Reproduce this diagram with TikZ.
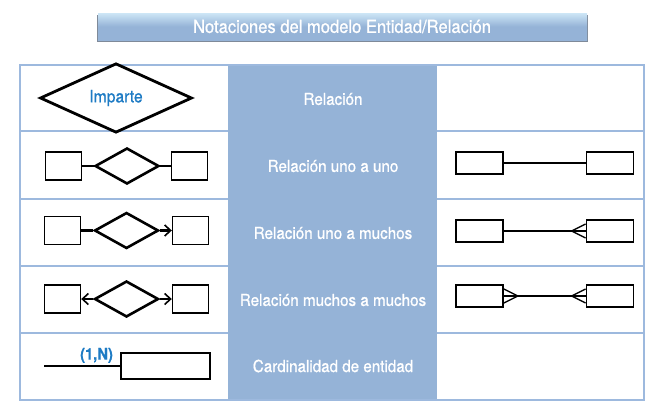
\documentclass[tikz,border=0pt]{standalone}
\usepackage{fontspec}
\setmainfont{TeX Gyre Heros}
\newfontfamily\cond[FakeStretch=0.92,FakeBold=0.9]{TeX Gyre Heros}
\usetikzlibrary{shapes.geometric,positioning,calc,arrows.meta}

\definecolor{tabline}{HTML}{9DB9DE}
\definecolor{colfill}{HTML}{95B3D7}
\definecolor{labblue}{HTML}{1E7BC4}
\definecolor{bannertop}{HTML}{CDE6F6}
\definecolor{bannershade}{HTML}{7F8A99}

\tikzset{
  ent/.style={rectangle,draw,line width=1.1pt,minimum width=36pt,
    minimum height=28pt,inner sep=0pt},
  rel/.style={diamond,draw,line width=2.6pt,minimum width=64pt,
    minimum height=36pt,inner sep=0pt},
  ent3/.style={rectangle,draw,line width=1.8pt,minimum width=47pt,
    minimum height=22pt,inner sep=0pt},
  desc/.style={text=white,font=\cond\fontsize{16.5}{19}\selectfont},
  link/.style={line width=2.4pt},
  link3/.style={line width=1.4pt},
  barb/.style={-{Straight Barb[length=6pt,width=11pt,line width=1.6pt]}},
}

\begin{document}
\begin{tikzpicture}[x=1pt,y=-1pt]
  \useasboundingbox (0,0) rectangle (660,418);

  % banner
  \fill[bannershade] (97,15) rectangle (588,42);
  \shade[top color=bannertop,bottom color=colfill,middle color=colfill]
    (98,13) rectangle (587,40);
  \node[text=white,font=\cond\fontsize{18}{21}\selectfont] (title) at (342,26.5)
    {Notaciones del modelo Entidad/Relación};

  % table
  \fill[colfill] (228,65) rectangle (437,400);
  \foreach \y in {131,199,266,333} {
    \draw[tabline,line width=1.3pt] (20,\y) -- (228,\y);
    \draw[tabline,line width=1.3pt] (437,\y) -- (644,\y);
  }
  \draw[tabline,line width=1.5pt] (20,65) rectangle (644,400);

  \node[desc] (t1) at (333,99) {Relación};
  \node[desc] (t2) at (333,166) {Relación uno a uno};
  \node[desc] (t3) at (333,233) {Relación uno a muchos};
  \node[desc] (t4) at (333,300) {Relación muchos a muchos};
  \node[desc] (t5) at (333,366) {Cardinalidad de entidad};

  % row 1
  \node[diamond,draw,line width=2.8pt,minimum width=152pt,minimum height=51pt,
    inner sep=0pt,text=labblue,font=\cond\fontsize{17}{20}\selectfont] (imp)
    at (116,98) {Imparte};

  % row 2: uno a uno
  \node[rel] (r2) at (127,166) {};
  \node[ent,left=12pt of r2] (e2l) {};
  \node[ent,right=11pt of r2] (e2r) {};
  \draw[link] (e2l) -- (r2);
  \draw[link] (r2) -- (e2r);

  % row 3: uno a muchos
  \node[rel] (r3) at (126.5,230.5) {};
  \node[ent,left=12pt of r3] (e3l) {};
  \node[ent,right=12pt of r3] (e3r) {};
  \draw[link] (e3l) -- (r3);
  \draw[link,barb] (r3) -- (e3r);

  % row 4: muchos a muchos
  \node[rel] (r4) at (126.5,299) {};
  \node[ent,left=12pt of r4] (e4l) {};
  \node[ent,right=12pt of r4] (e4r) {};
  \draw[link,barb] (r4) -- (e4l);
  \draw[link,barb] (r4) -- (e4r);

  % row 5: cardinalidad
  \node[rectangle,draw,line width=1.8pt,minimum width=89pt,minimum height=26pt,
    inner sep=0pt] (card) at (165.5,366) {};
  \coordinate (cstart) at (44,366);
  \draw[link3] (cstart) -- (card.west);
  \node[text=labblue,font=\cond\bfseries\fontsize{16}{19}\selectfont,
    above left=3pt and 7pt of card.west,inner sep=0pt] (cn) {(1,N)};

  % column 3
  \node[ent3] (o2l) at (479.5,163) {};
  \node[ent3] (o2r) at (610,163) {};
  \draw[link3] (o2l) -- (o2r);

  \node[ent3] (o3l) at (479.5,231) {};
  \node[ent3] (o3r) at (610,231) {};
  \draw[link3] (o3l) -- (o3r);
  \coordinate (cf3) at ($(o3r.west)+(-14,0)$);
  \draw[link3] (cf3) -- ($(o3r.west)+(0,-7)$);
  \draw[link3] (cf3) -- ($(o3r.west)+(0,7)$);

  \node[ent3] (o4l) at (479.5,296) {};
  \node[ent3] (o4r) at (610,296) {};
  \draw[link3] (o4l) -- (o4r);
  \coordinate (cf4a) at ($(o4l.east)+(14,0)$);
  \coordinate (cf4b) at ($(o4r.west)+(-14,0)$);
  \draw[link3] (cf4a) -- ($(o4l.east)+(0,-7)$);
  \draw[link3] (cf4a) -- ($(o4l.east)+(0,7)$);
  \draw[link3] (cf4b) -- ($(o4r.west)+(0,-7)$);
  \draw[link3] (cf4b) -- ($(o4r.west)+(0,7)$);
\end{tikzpicture}
\end{document}
